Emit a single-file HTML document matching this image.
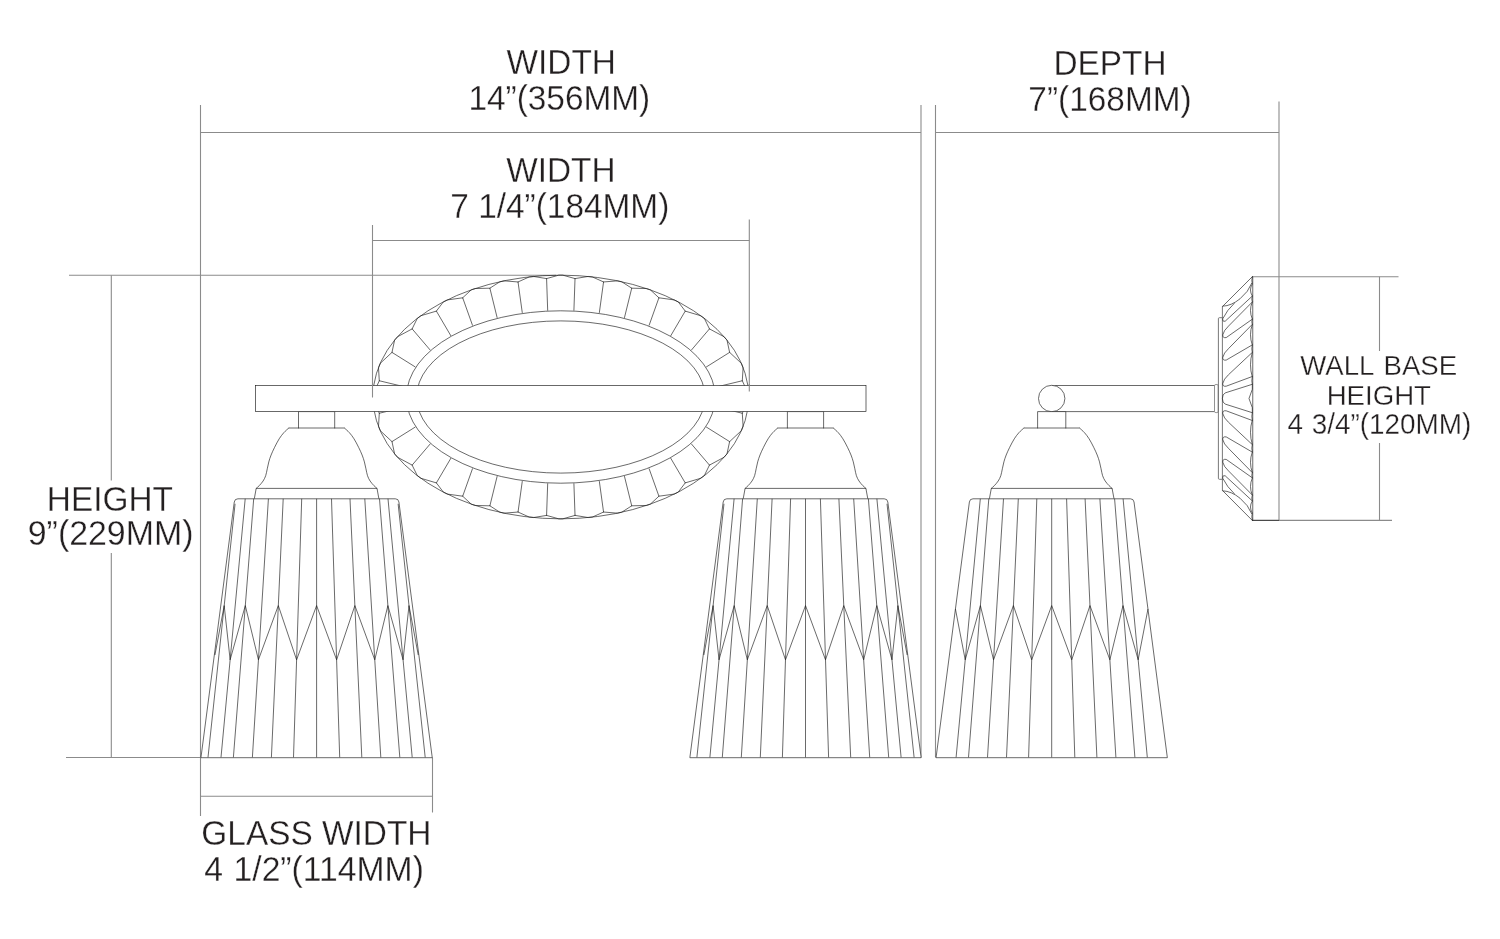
<!DOCTYPE html>
<html lang="en">
<head>
<meta charset="utf-8">
<title>Fixture dimensions</title>
<style>
html,body{margin:0;padding:0;background:#fff;}
body{width:1500px;height:939px;overflow:hidden;}
svg{display:block;will-change:transform;opacity:0.999;}
text{font-family:"Liberation Sans",sans-serif;fill:#231f20;stroke:#fff;stroke-width:0.3px;}
</style>
</head>
<body>
<svg width="1500" height="939" viewBox="0 0 1500 939">
<rect x="0" y="0" width="1500" height="939" fill="#fff"/>
<line x1="200.50" y1="105.00" x2="200.50" y2="816.00" stroke="#8b8b8b" stroke-width="1.1" />
<line x1="921.00" y1="105.00" x2="921.00" y2="757.50" stroke="#8b8b8b" stroke-width="1.1" />
<line x1="200.50" y1="132.50" x2="921.00" y2="132.50" stroke="#8b8b8b" stroke-width="1.1" />
<line x1="935.50" y1="105.00" x2="935.50" y2="757.50" stroke="#8b8b8b" stroke-width="1.1" />
<line x1="1279.00" y1="101.50" x2="1279.00" y2="520.50" stroke="#8b8b8b" stroke-width="1.1" />
<line x1="935.50" y1="132.50" x2="1279.00" y2="132.50" stroke="#8b8b8b" stroke-width="1.1" />
<line x1="372.50" y1="225.00" x2="372.50" y2="397.50" stroke="#8b8b8b" stroke-width="1.1" />
<line x1="749.30" y1="219.50" x2="749.30" y2="391.50" stroke="#8b8b8b" stroke-width="1.1" />
<line x1="372.50" y1="240.50" x2="749.30" y2="240.50" stroke="#8b8b8b" stroke-width="1.1" />
<line x1="69.00" y1="275.30" x2="556.00" y2="275.30" stroke="#8b8b8b" stroke-width="1.1" />
<line x1="66.00" y1="757.50" x2="200.50" y2="757.50" stroke="#8b8b8b" stroke-width="1.1" />
<line x1="111.30" y1="275.30" x2="111.30" y2="480.50" stroke="#8b8b8b" stroke-width="1.1" />
<line x1="111.30" y1="553.00" x2="111.30" y2="757.50" stroke="#8b8b8b" stroke-width="1.1" />
<line x1="432.50" y1="757.50" x2="432.50" y2="812.50" stroke="#8b8b8b" stroke-width="1.1" />
<line x1="200.50" y1="796.30" x2="432.50" y2="796.30" stroke="#8b8b8b" stroke-width="1.1" />
<line x1="1252.00" y1="276.70" x2="1398.50" y2="276.70" stroke="#8b8b8b" stroke-width="1.1" />
<line x1="1252.00" y1="520.40" x2="1392.00" y2="520.40" stroke="#8b8b8b" stroke-width="1.1" />
<line x1="1379.50" y1="276.70" x2="1379.50" y2="351.00" stroke="#8b8b8b" stroke-width="1.1" />
<line x1="1379.50" y1="443.00" x2="1379.50" y2="520.40" stroke="#8b8b8b" stroke-width="1.1" />
<ellipse cx="560.8" cy="397.0" rx="187.9" ry="121.85" fill="none" stroke="#1c1c1c" stroke-width="0.66"/>
<ellipse cx="560.8" cy="397.0" rx="154.4" ry="86.2" fill="none" stroke="#1c1c1c" stroke-width="0.66"/>
<ellipse cx="560.8" cy="397.0" rx="144.2" ry="76.1" fill="none" stroke="#1c1c1c" stroke-width="0.66"/>
<line x1="379.30" y1="380.76" x2="408.60" y2="387.80" stroke="#1c1c1c" stroke-width="0.66" />
<line x1="391.98" y1="352.38" x2="415.50" y2="367.10" stroke="#1c1c1c" stroke-width="0.66" />
<line x1="412.14" y1="328.89" x2="430.40" y2="350.30" stroke="#1c1c1c" stroke-width="0.66" />
<line x1="436.38" y1="311.10" x2="451.00" y2="336.00" stroke="#1c1c1c" stroke-width="0.66" />
<line x1="462.69" y1="297.80" x2="472.60" y2="325.60" stroke="#1c1c1c" stroke-width="0.66" />
<line x1="489.88" y1="288.19" x2="497.20" y2="317.90" stroke="#1c1c1c" stroke-width="0.66" />
<line x1="518.04" y1="281.96" x2="522.30" y2="312.90" stroke="#1c1c1c" stroke-width="0.66" />
<line x1="546.58" y1="278.60" x2="547.70" y2="310.70" stroke="#1c1c1c" stroke-width="0.66" />
<line x1="575.02" y1="278.60" x2="573.90" y2="310.70" stroke="#1c1c1c" stroke-width="0.66" />
<line x1="603.56" y1="281.96" x2="599.30" y2="312.90" stroke="#1c1c1c" stroke-width="0.66" />
<line x1="631.72" y1="288.19" x2="624.40" y2="317.90" stroke="#1c1c1c" stroke-width="0.66" />
<line x1="658.91" y1="297.80" x2="649.00" y2="325.60" stroke="#1c1c1c" stroke-width="0.66" />
<line x1="685.22" y1="311.10" x2="670.60" y2="336.00" stroke="#1c1c1c" stroke-width="0.66" />
<line x1="709.46" y1="328.89" x2="691.20" y2="350.30" stroke="#1c1c1c" stroke-width="0.66" />
<line x1="729.62" y1="352.38" x2="706.10" y2="367.10" stroke="#1c1c1c" stroke-width="0.66" />
<line x1="742.30" y1="380.76" x2="713.00" y2="387.80" stroke="#1c1c1c" stroke-width="0.66" />
<line x1="742.30" y1="413.24" x2="713.00" y2="406.20" stroke="#1c1c1c" stroke-width="0.66" />
<line x1="729.62" y1="441.62" x2="706.10" y2="426.90" stroke="#1c1c1c" stroke-width="0.66" />
<line x1="709.46" y1="465.11" x2="691.20" y2="443.70" stroke="#1c1c1c" stroke-width="0.66" />
<line x1="685.22" y1="482.90" x2="670.60" y2="458.00" stroke="#1c1c1c" stroke-width="0.66" />
<line x1="658.91" y1="496.20" x2="649.00" y2="468.40" stroke="#1c1c1c" stroke-width="0.66" />
<line x1="631.72" y1="505.81" x2="624.40" y2="476.10" stroke="#1c1c1c" stroke-width="0.66" />
<line x1="603.56" y1="512.04" x2="599.30" y2="481.10" stroke="#1c1c1c" stroke-width="0.66" />
<line x1="575.02" y1="515.40" x2="573.90" y2="483.30" stroke="#1c1c1c" stroke-width="0.66" />
<line x1="546.58" y1="515.40" x2="547.70" y2="483.30" stroke="#1c1c1c" stroke-width="0.66" />
<line x1="518.04" y1="512.04" x2="522.30" y2="481.10" stroke="#1c1c1c" stroke-width="0.66" />
<line x1="489.88" y1="505.81" x2="497.20" y2="476.10" stroke="#1c1c1c" stroke-width="0.66" />
<line x1="462.69" y1="496.20" x2="472.60" y2="468.40" stroke="#1c1c1c" stroke-width="0.66" />
<line x1="436.38" y1="482.90" x2="451.00" y2="458.00" stroke="#1c1c1c" stroke-width="0.66" />
<line x1="412.14" y1="465.11" x2="430.40" y2="443.70" stroke="#1c1c1c" stroke-width="0.66" />
<line x1="391.98" y1="441.62" x2="415.50" y2="426.90" stroke="#1c1c1c" stroke-width="0.66" />
<line x1="379.30" y1="413.24" x2="408.60" y2="406.20" stroke="#1c1c1c" stroke-width="0.66" />
<path d="M379.30,380.76 L378.49,367.50 L380.19,363.38 L391.98,352.38" stroke="#1c1c1c" stroke-width="0.66" fill="none" stroke-linejoin="round" stroke-linecap="round" />
<path d="M391.98,352.38 L394.58,340.18 L397.46,336.77 L412.14,328.89" stroke="#1c1c1c" stroke-width="0.66" fill="none" stroke-linejoin="round" stroke-linecap="round" />
<path d="M412.14,328.89 L417.30,318.34 L420.78,315.74 L436.38,311.10" stroke="#1c1c1c" stroke-width="0.66" fill="none" stroke-linejoin="round" stroke-linecap="round" />
<path d="M436.38,311.10 L443.37,301.87 L447.19,299.95 L462.69,297.80" stroke="#1c1c1c" stroke-width="0.66" fill="none" stroke-linejoin="round" stroke-linecap="round" />
<path d="M462.69,297.80 L471.21,289.89 L475.18,288.54 L489.88,288.19" stroke="#1c1c1c" stroke-width="0.66" fill="none" stroke-linejoin="round" stroke-linecap="round" />
<path d="M489.88,288.19 L499.98,281.71 L504.06,280.84 L518.04,281.96" stroke="#1c1c1c" stroke-width="0.66" fill="none" stroke-linejoin="round" stroke-linecap="round" />
<path d="M518.04,281.96 L529.34,276.87 L533.47,276.45 L546.58,278.60" stroke="#1c1c1c" stroke-width="0.66" fill="none" stroke-linejoin="round" stroke-linecap="round" />
<path d="M546.58,278.60 L558.76,275.16 L562.84,275.16 L575.02,278.60" stroke="#1c1c1c" stroke-width="0.66" fill="none" stroke-linejoin="round" stroke-linecap="round" />
<path d="M575.02,278.60 L588.13,276.45 L592.26,276.87 L603.56,281.96" stroke="#1c1c1c" stroke-width="0.66" fill="none" stroke-linejoin="round" stroke-linecap="round" />
<path d="M603.56,281.96 L617.54,280.84 L621.62,281.71 L631.72,288.19" stroke="#1c1c1c" stroke-width="0.66" fill="none" stroke-linejoin="round" stroke-linecap="round" />
<path d="M631.72,288.19 L646.42,288.54 L650.39,289.89 L658.91,297.80" stroke="#1c1c1c" stroke-width="0.66" fill="none" stroke-linejoin="round" stroke-linecap="round" />
<path d="M658.91,297.80 L674.41,299.95 L678.23,301.87 L685.22,311.10" stroke="#1c1c1c" stroke-width="0.66" fill="none" stroke-linejoin="round" stroke-linecap="round" />
<path d="M685.22,311.10 L700.82,315.74 L704.30,318.34 L709.46,328.89" stroke="#1c1c1c" stroke-width="0.66" fill="none" stroke-linejoin="round" stroke-linecap="round" />
<path d="M709.46,328.89 L724.14,336.77 L727.02,340.18 L729.62,352.38" stroke="#1c1c1c" stroke-width="0.66" fill="none" stroke-linejoin="round" stroke-linecap="round" />
<path d="M729.62,352.38 L741.41,363.38 L743.11,367.50 L742.30,380.76" stroke="#1c1c1c" stroke-width="0.66" fill="none" stroke-linejoin="round" stroke-linecap="round" />
<path d="M742.30,380.76 L748.67,394.66 L748.67,399.34 L742.30,413.24" stroke="#1c1c1c" stroke-width="0.66" fill="none" stroke-linejoin="round" stroke-linecap="round" />
<path d="M742.30,413.24 L743.11,426.50 L741.41,430.62 L729.62,441.62" stroke="#1c1c1c" stroke-width="0.66" fill="none" stroke-linejoin="round" stroke-linecap="round" />
<path d="M729.62,441.62 L727.02,453.82 L724.14,457.23 L709.46,465.11" stroke="#1c1c1c" stroke-width="0.66" fill="none" stroke-linejoin="round" stroke-linecap="round" />
<path d="M709.46,465.11 L704.30,475.66 L700.82,478.26 L685.22,482.90" stroke="#1c1c1c" stroke-width="0.66" fill="none" stroke-linejoin="round" stroke-linecap="round" />
<path d="M685.22,482.90 L678.23,492.13 L674.41,494.05 L658.91,496.20" stroke="#1c1c1c" stroke-width="0.66" fill="none" stroke-linejoin="round" stroke-linecap="round" />
<path d="M658.91,496.20 L650.39,504.11 L646.42,505.46 L631.72,505.81" stroke="#1c1c1c" stroke-width="0.66" fill="none" stroke-linejoin="round" stroke-linecap="round" />
<path d="M631.72,505.81 L621.62,512.29 L617.54,513.16 L603.56,512.04" stroke="#1c1c1c" stroke-width="0.66" fill="none" stroke-linejoin="round" stroke-linecap="round" />
<path d="M603.56,512.04 L592.26,517.13 L588.13,517.55 L575.02,515.40" stroke="#1c1c1c" stroke-width="0.66" fill="none" stroke-linejoin="round" stroke-linecap="round" />
<path d="M575.02,515.40 L562.84,518.84 L558.76,518.84 L546.58,515.40" stroke="#1c1c1c" stroke-width="0.66" fill="none" stroke-linejoin="round" stroke-linecap="round" />
<path d="M546.58,515.40 L533.47,517.55 L529.34,517.13 L518.04,512.04" stroke="#1c1c1c" stroke-width="0.66" fill="none" stroke-linejoin="round" stroke-linecap="round" />
<path d="M518.04,512.04 L504.06,513.16 L499.98,512.29 L489.88,505.81" stroke="#1c1c1c" stroke-width="0.66" fill="none" stroke-linejoin="round" stroke-linecap="round" />
<path d="M489.88,505.81 L475.18,505.46 L471.21,504.11 L462.69,496.20" stroke="#1c1c1c" stroke-width="0.66" fill="none" stroke-linejoin="round" stroke-linecap="round" />
<path d="M462.69,496.20 L447.19,494.05 L443.37,492.13 L436.38,482.90" stroke="#1c1c1c" stroke-width="0.66" fill="none" stroke-linejoin="round" stroke-linecap="round" />
<path d="M436.38,482.90 L420.78,478.26 L417.30,475.66 L412.14,465.11" stroke="#1c1c1c" stroke-width="0.66" fill="none" stroke-linejoin="round" stroke-linecap="round" />
<path d="M412.14,465.11 L397.46,457.23 L394.58,453.82 L391.98,441.62" stroke="#1c1c1c" stroke-width="0.66" fill="none" stroke-linejoin="round" stroke-linecap="round" />
<path d="M391.98,441.62 L380.19,430.62 L378.49,426.50 L379.30,413.24" stroke="#1c1c1c" stroke-width="0.66" fill="none" stroke-linejoin="round" stroke-linecap="round" />
<path d="M379.30,413.24 L372.93,399.34 L372.93,394.66 L379.30,380.76" stroke="#1c1c1c" stroke-width="0.66" fill="none" stroke-linejoin="round" stroke-linecap="round" />
<rect x="255.6" y="385.5" width="610.40" height="26.10" fill="#fff" stroke="#1c1c1c" stroke-width="0.66"/>
<line x1="372.50" y1="384.00" x2="372.50" y2="397.50" stroke="#8b8b8b" stroke-width="1.1" />
<line x1="749.30" y1="384.00" x2="749.30" y2="391.50" stroke="#8b8b8b" stroke-width="1.1" />
<path d="M298.50,428.0 L298.50,411.6 L334.70,411.6 L334.70,428.0" stroke="#1c1c1c" stroke-width="0.66" fill="#fff" stroke-linejoin="round" stroke-linecap="round" />
<path d="M344.40,428.00 C345.23,428.78 347.80,430.90 349.40,432.70 C351.00,434.50 352.47,436.37 354.00,438.80 C355.53,441.23 357.25,444.60 358.60,447.30 C359.95,450.00 361.13,452.57 362.10,455.00 C363.07,457.43 363.76,459.60 364.40,461.90 C365.04,464.20 365.43,466.50 365.95,468.80 C366.47,471.10 366.81,473.67 367.50,475.70 C368.19,477.73 369.03,479.35 370.10,481.00 C371.17,482.65 372.75,484.37 373.90,485.60 C375.05,486.83 376.48,487.93 377.00,488.40" stroke="#1c1c1c" stroke-width="0.66" fill="none" stroke-linejoin="round" stroke-linecap="round" />
<path d="M288.80,428.00 C287.97,428.78 285.40,430.90 283.80,432.70 C282.20,434.50 280.73,436.37 279.20,438.80 C277.67,441.23 275.95,444.60 274.60,447.30 C273.25,450.00 272.07,452.57 271.10,455.00 C270.13,457.43 269.44,459.60 268.80,461.90 C268.16,464.20 267.77,466.50 267.25,468.80 C266.73,471.10 266.39,473.67 265.70,475.70 C265.01,477.73 264.17,479.35 263.10,481.00 C262.03,482.65 260.45,484.37 259.30,485.60 C258.15,486.83 256.72,487.93 256.20,488.40" stroke="#1c1c1c" stroke-width="0.66" fill="none" stroke-linejoin="round" stroke-linecap="round" />
<line x1="288.80" y1="428.00" x2="344.40" y2="428.00" stroke="#1c1c1c" stroke-width="0.66" />
<line x1="256.20" y1="488.40" x2="377.00" y2="488.40" stroke="#1c1c1c" stroke-width="0.66" />
<line x1="256.20" y1="488.40" x2="254.30" y2="498.80" stroke="#1c1c1c" stroke-width="0.66" />
<line x1="377.00" y1="488.40" x2="378.90" y2="498.80" stroke="#1c1c1c" stroke-width="0.66" />
<path d="M201.00,757.3 L234.28,502.0 Q234.70,498.8 237.90,498.8 L395.30,498.8 Q398.50,498.8 398.92,502.0 L432.20,757.3 Z" stroke="#1c1c1c" stroke-width="0.66" fill="#fff" stroke-linejoin="round" stroke-linecap="round" />
<line x1="235.07" y1="503.80" x2="208.00" y2="757.30" stroke="#1c1c1c" stroke-width="0.66" />
<line x1="245.20" y1="498.80" x2="221.00" y2="757.30" stroke="#1c1c1c" stroke-width="0.66" />
<line x1="253.70" y1="498.80" x2="233.40" y2="757.30" stroke="#1c1c1c" stroke-width="0.66" />
<line x1="268.40" y1="498.80" x2="252.40" y2="757.30" stroke="#1c1c1c" stroke-width="0.66" />
<line x1="283.20" y1="498.80" x2="271.40" y2="757.30" stroke="#1c1c1c" stroke-width="0.66" />
<line x1="301.70" y1="498.80" x2="293.50" y2="757.30" stroke="#1c1c1c" stroke-width="0.66" />
<line x1="316.60" y1="498.80" x2="316.60" y2="757.30" stroke="#1c1c1c" stroke-width="0.66" />
<line x1="331.50" y1="498.80" x2="339.70" y2="757.30" stroke="#1c1c1c" stroke-width="0.66" />
<line x1="350.00" y1="498.80" x2="361.80" y2="757.30" stroke="#1c1c1c" stroke-width="0.66" />
<line x1="364.80" y1="498.80" x2="380.80" y2="757.30" stroke="#1c1c1c" stroke-width="0.66" />
<line x1="379.50" y1="498.80" x2="399.80" y2="757.30" stroke="#1c1c1c" stroke-width="0.66" />
<line x1="388.00" y1="498.80" x2="412.20" y2="757.30" stroke="#1c1c1c" stroke-width="0.66" />
<line x1="398.13" y1="503.80" x2="425.20" y2="757.30" stroke="#1c1c1c" stroke-width="0.66" />
<path d="M224.20,605.60 L230.13,659.80 L245.31,605.60 L258.43,659.80 L278.32,605.60 L296.59,659.80 L316.60,605.60 L336.61,659.80 L354.88,605.60 L374.77,659.80 L387.89,605.60 L403.07,659.80 L409.00,605.60" stroke="#1c1c1c" stroke-width="0.66" fill="none" stroke-linejoin="miter" stroke-miterlimit="10"/>
<line x1="224.20" y1="605.60" x2="214.94" y2="655.00" stroke="#1c1c1c" stroke-width="0.66" />
<line x1="409.00" y1="605.60" x2="418.26" y2="655.00" stroke="#1c1c1c" stroke-width="0.66" />
<path d="M787.40,428.0 L787.40,411.6 L823.60,411.6 L823.60,428.0" stroke="#1c1c1c" stroke-width="0.66" fill="#fff" stroke-linejoin="round" stroke-linecap="round" />
<path d="M833.30,428.00 C834.13,428.78 836.70,430.90 838.30,432.70 C839.90,434.50 841.37,436.37 842.90,438.80 C844.43,441.23 846.15,444.60 847.50,447.30 C848.85,450.00 850.03,452.57 851.00,455.00 C851.97,457.43 852.66,459.60 853.30,461.90 C853.94,464.20 854.33,466.50 854.85,468.80 C855.37,471.10 855.71,473.67 856.40,475.70 C857.09,477.73 857.93,479.35 859.00,481.00 C860.07,482.65 861.65,484.37 862.80,485.60 C863.95,486.83 865.38,487.93 865.90,488.40" stroke="#1c1c1c" stroke-width="0.66" fill="none" stroke-linejoin="round" stroke-linecap="round" />
<path d="M777.70,428.00 C776.87,428.78 774.30,430.90 772.70,432.70 C771.10,434.50 769.63,436.37 768.10,438.80 C766.57,441.23 764.85,444.60 763.50,447.30 C762.15,450.00 760.97,452.57 760.00,455.00 C759.03,457.43 758.34,459.60 757.70,461.90 C757.06,464.20 756.67,466.50 756.15,468.80 C755.63,471.10 755.29,473.67 754.60,475.70 C753.91,477.73 753.07,479.35 752.00,481.00 C750.93,482.65 749.35,484.37 748.20,485.60 C747.05,486.83 745.62,487.93 745.10,488.40" stroke="#1c1c1c" stroke-width="0.66" fill="none" stroke-linejoin="round" stroke-linecap="round" />
<line x1="777.70" y1="428.00" x2="833.30" y2="428.00" stroke="#1c1c1c" stroke-width="0.66" />
<line x1="745.10" y1="488.40" x2="865.90" y2="488.40" stroke="#1c1c1c" stroke-width="0.66" />
<line x1="745.10" y1="488.40" x2="743.20" y2="498.80" stroke="#1c1c1c" stroke-width="0.66" />
<line x1="865.90" y1="488.40" x2="867.80" y2="498.80" stroke="#1c1c1c" stroke-width="0.66" />
<path d="M689.90,757.3 L723.18,502.0 Q723.60,498.8 726.80,498.8 L884.20,498.8 Q887.40,498.8 887.82,502.0 L921.10,757.3 Z" stroke="#1c1c1c" stroke-width="0.66" fill="#fff" stroke-linejoin="round" stroke-linecap="round" />
<line x1="723.97" y1="503.80" x2="696.90" y2="757.30" stroke="#1c1c1c" stroke-width="0.66" />
<line x1="734.10" y1="498.80" x2="709.90" y2="757.30" stroke="#1c1c1c" stroke-width="0.66" />
<line x1="742.60" y1="498.80" x2="722.30" y2="757.30" stroke="#1c1c1c" stroke-width="0.66" />
<line x1="757.30" y1="498.80" x2="741.30" y2="757.30" stroke="#1c1c1c" stroke-width="0.66" />
<line x1="772.10" y1="498.80" x2="760.30" y2="757.30" stroke="#1c1c1c" stroke-width="0.66" />
<line x1="790.60" y1="498.80" x2="782.40" y2="757.30" stroke="#1c1c1c" stroke-width="0.66" />
<line x1="805.50" y1="498.80" x2="805.50" y2="757.30" stroke="#1c1c1c" stroke-width="0.66" />
<line x1="820.40" y1="498.80" x2="828.60" y2="757.30" stroke="#1c1c1c" stroke-width="0.66" />
<line x1="838.90" y1="498.80" x2="850.70" y2="757.30" stroke="#1c1c1c" stroke-width="0.66" />
<line x1="853.70" y1="498.80" x2="869.70" y2="757.30" stroke="#1c1c1c" stroke-width="0.66" />
<line x1="868.40" y1="498.80" x2="888.70" y2="757.30" stroke="#1c1c1c" stroke-width="0.66" />
<line x1="876.90" y1="498.80" x2="901.10" y2="757.30" stroke="#1c1c1c" stroke-width="0.66" />
<line x1="887.03" y1="503.80" x2="914.10" y2="757.30" stroke="#1c1c1c" stroke-width="0.66" />
<path d="M713.10,605.60 L719.03,659.80 L734.21,605.60 L747.33,659.80 L767.22,605.60 L785.49,659.80 L805.50,605.60 L825.51,659.80 L843.78,605.60 L863.67,659.80 L876.79,605.60 L891.97,659.80 L897.90,605.60" stroke="#1c1c1c" stroke-width="0.66" fill="none" stroke-linejoin="miter" stroke-miterlimit="10"/>
<line x1="713.10" y1="605.60" x2="703.84" y2="655.00" stroke="#1c1c1c" stroke-width="0.66" />
<line x1="897.90" y1="605.60" x2="907.16" y2="655.00" stroke="#1c1c1c" stroke-width="0.66" />
<line x1="1051.70" y1="385.50" x2="1214.60" y2="385.50" stroke="#1c1c1c" stroke-width="0.66" />
<line x1="1051.70" y1="411.60" x2="1214.60" y2="411.60" stroke="#1c1c1c" stroke-width="0.66" />
<rect x="1214.5" y="384.5" width="3.7" height="28.1" rx="1.3" ry="1.3" fill="#fff" stroke="#5a5a5a" stroke-width="0.66"/>
<circle cx="1051.7" cy="398.5" r="13.2" fill="#fff" stroke="#1c1c1c" stroke-width="0.66"/>
<path d="M1037.60,428.0 L1037.60,411.6 L1065.80,411.6 L1065.80,428.0" stroke="#1c1c1c" stroke-width="0.66" fill="#fff" stroke-linejoin="round" stroke-linecap="round" />
<path d="M1079.50,428.00 C1080.33,428.78 1082.90,430.90 1084.50,432.70 C1086.10,434.50 1087.57,436.37 1089.10,438.80 C1090.63,441.23 1092.35,444.60 1093.70,447.30 C1095.05,450.00 1096.23,452.57 1097.20,455.00 C1098.17,457.43 1098.86,459.60 1099.50,461.90 C1100.14,464.20 1100.53,466.50 1101.05,468.80 C1101.57,471.10 1101.91,473.67 1102.60,475.70 C1103.29,477.73 1104.13,479.35 1105.20,481.00 C1106.27,482.65 1107.85,484.37 1109.00,485.60 C1110.15,486.83 1111.58,487.93 1112.10,488.40" stroke="#1c1c1c" stroke-width="0.66" fill="none" stroke-linejoin="round" stroke-linecap="round" />
<path d="M1023.90,428.00 C1023.07,428.78 1020.50,430.90 1018.90,432.70 C1017.30,434.50 1015.83,436.37 1014.30,438.80 C1012.77,441.23 1011.05,444.60 1009.70,447.30 C1008.35,450.00 1007.17,452.57 1006.20,455.00 C1005.23,457.43 1004.54,459.60 1003.90,461.90 C1003.26,464.20 1002.87,466.50 1002.35,468.80 C1001.83,471.10 1001.49,473.67 1000.80,475.70 C1000.11,477.73 999.27,479.35 998.20,481.00 C997.13,482.65 995.55,484.37 994.40,485.60 C993.25,486.83 991.82,487.93 991.30,488.40" stroke="#1c1c1c" stroke-width="0.66" fill="none" stroke-linejoin="round" stroke-linecap="round" />
<line x1="1023.90" y1="428.00" x2="1079.50" y2="428.00" stroke="#1c1c1c" stroke-width="0.66" />
<line x1="991.30" y1="488.40" x2="1112.10" y2="488.40" stroke="#1c1c1c" stroke-width="0.66" />
<line x1="991.30" y1="488.40" x2="989.40" y2="498.80" stroke="#1c1c1c" stroke-width="0.66" />
<line x1="1112.10" y1="488.40" x2="1114.00" y2="498.80" stroke="#1c1c1c" stroke-width="0.66" />
<path d="M936.10,757.3 L969.38,502.0 Q969.80,498.8 973.00,498.8 L1130.40,498.8 Q1133.60,498.8 1134.02,502.0 L1167.30,757.3 Z" stroke="#1c1c1c" stroke-width="0.66" fill="#fff" stroke-linejoin="round" stroke-linecap="round" />
<line x1="980.30" y1="498.80" x2="956.10" y2="757.30" stroke="#1c1c1c" stroke-width="0.66" />
<line x1="988.80" y1="498.80" x2="968.50" y2="757.30" stroke="#1c1c1c" stroke-width="0.66" />
<line x1="1003.50" y1="498.80" x2="987.50" y2="757.30" stroke="#1c1c1c" stroke-width="0.66" />
<line x1="1018.30" y1="498.80" x2="1006.50" y2="757.30" stroke="#1c1c1c" stroke-width="0.66" />
<line x1="1036.80" y1="498.80" x2="1028.60" y2="757.30" stroke="#1c1c1c" stroke-width="0.66" />
<line x1="1051.70" y1="498.80" x2="1051.70" y2="757.30" stroke="#1c1c1c" stroke-width="0.66" />
<line x1="1066.60" y1="498.80" x2="1074.80" y2="757.30" stroke="#1c1c1c" stroke-width="0.66" />
<line x1="1085.10" y1="498.80" x2="1096.90" y2="757.30" stroke="#1c1c1c" stroke-width="0.66" />
<line x1="1099.90" y1="498.80" x2="1115.90" y2="757.30" stroke="#1c1c1c" stroke-width="0.66" />
<line x1="1114.60" y1="498.80" x2="1134.90" y2="757.30" stroke="#1c1c1c" stroke-width="0.66" />
<line x1="1123.10" y1="498.80" x2="1147.30" y2="757.30" stroke="#1c1c1c" stroke-width="0.66" />
<path d="M955.43,609.00 L965.23,659.80 L980.41,605.60 L993.53,659.80 L1013.42,605.60 L1031.69,659.80 L1051.70,605.60 L1071.71,659.80 L1089.98,605.60 L1109.87,659.80 L1122.99,605.60 L1138.17,659.80 L1147.97,609.00" stroke="#1c1c1c" stroke-width="0.66" fill="none" stroke-linejoin="miter" stroke-miterlimit="10"/>
<path d="M1252.3,276.7 L1222.4,306.6" stroke="#1c1c1c" stroke-width="0.66" fill="none" stroke-linejoin="round" stroke-linecap="round" />
<path d="M1222.4,490.40 L1252.3,520.4" stroke="#1c1c1c" stroke-width="0.66" fill="none" stroke-linejoin="round" stroke-linecap="round" />
<line x1="1222.40" y1="306.60" x2="1222.40" y2="490.40" stroke="#6a6a6a" stroke-width="0.9" />
<line x1="1252.75" y1="276.70" x2="1252.75" y2="520.40" stroke="#1c1c1c" stroke-width="0.66" />
<line x1="1252.30" y1="520.40" x2="1279.00" y2="520.40" stroke="#1c1c1c" stroke-width="0.66" />
<path d="M1222.4,317.7 L1219.4,317.7 Q1218.4,317.7 1218.4,318.7 L1218.4,478.30 Q1218.4,479.30 1219.4,479.30 L1222.4,479.30" stroke="#6a6a6a" stroke-width="0.9" fill="none" stroke-linejoin="round" stroke-linecap="round" />
<path d="M1222.9,306.20 Q1231.5,305.80 1240.0,298.80 T1251.7,283.40" stroke="#1c1c1c" stroke-width="0.66" fill="none" stroke-linejoin="round" stroke-linecap="round" />
<path d="M1234.2,303.40 Q1227.0,310.00 1222.9,318.50 Q1222.0,321.80 1225.2,321.20 L1252.3,296.10" stroke="#1c1c1c" stroke-width="0.66" fill="none" stroke-linejoin="round" stroke-linecap="round" />
<path d="M1252.3,302.00 L1228.5,326.10 Q1223.6,330.60 1222.8,334.80 Q1222.4,338.20 1226.2,337.60 L1252.3,319.20" stroke="#1c1c1c" stroke-width="0.66" fill="none" stroke-linejoin="round" stroke-linecap="round" />
<path d="M1252.3,324.40 L1228.5,348.60 Q1223.6,353.10 1222.8,357.30 Q1222.4,360.70 1226.2,360.10 L1252.3,344.90" stroke="#1c1c1c" stroke-width="0.66" fill="none" stroke-linejoin="round" stroke-linecap="round" />
<path d="M1252.3,352.40 L1228.5,374.70 Q1223.6,379.20 1222.8,383.40 Q1222.4,386.80 1226.2,386.20 L1252.3,376.50" stroke="#1c1c1c" stroke-width="0.66" fill="none" stroke-linejoin="round" stroke-linecap="round" />
<path d="M1222.9,490.80 Q1231.5,491.20 1240.0,498.20 T1251.7,513.60" stroke="#1c1c1c" stroke-width="0.66" fill="none" stroke-linejoin="round" stroke-linecap="round" />
<path d="M1234.2,493.60 Q1227.0,487.00 1222.9,478.50 Q1222.0,475.20 1225.2,475.80 L1252.3,500.90" stroke="#1c1c1c" stroke-width="0.66" fill="none" stroke-linejoin="round" stroke-linecap="round" />
<path d="M1252.3,495.00 L1228.5,470.90 Q1223.6,466.40 1222.8,462.20 Q1222.4,458.80 1226.2,459.40 L1252.3,477.80" stroke="#1c1c1c" stroke-width="0.66" fill="none" stroke-linejoin="round" stroke-linecap="round" />
<path d="M1252.3,472.60 L1228.5,448.40 Q1223.6,443.90 1222.8,439.70 Q1222.4,436.30 1226.2,436.90 L1252.3,452.10" stroke="#1c1c1c" stroke-width="0.66" fill="none" stroke-linejoin="round" stroke-linecap="round" />
<path d="M1252.3,444.60 L1228.5,422.30 Q1223.6,417.80 1222.8,413.60 Q1222.4,410.20 1226.2,410.80 L1252.3,420.50" stroke="#1c1c1c" stroke-width="0.66" fill="none" stroke-linejoin="round" stroke-linecap="round" />
<path d="M1252.3,384.3 L1225.2,392.9 Q1222.4,394.3 1222.4,398.5 Q1222.4,402.70 1225.2,404.10 L1252.3,412.70" stroke="#1c1c1c" stroke-width="0.66" fill="none" stroke-linejoin="round" stroke-linecap="round" />
<path d="M1252.3,276.7 Q1251.30,280.35 1252.3,284.00 Q1248.70,290.00 1252.3,296.00 Q1251.30,299.00 1252.3,302.00 Q1248.70,310.50 1252.3,319.00 Q1251.30,321.75 1252.3,324.50 Q1248.70,334.75 1252.3,345.00 Q1251.30,348.75 1252.3,352.50 Q1248.70,364.75 1252.3,377.00 Q1251.30,380.65 1252.3,384.30 L1252.3,389.30 L1249.00,398.5 L1252.3,407.70 L1252.3,412.70 Q1251.30,416.35 1252.3,420.00 Q1248.70,432.25 1252.3,444.50 Q1251.30,448.25 1252.3,452.00 Q1248.70,462.25 1252.3,472.50 Q1251.30,475.25 1252.3,478.00 Q1248.70,486.50 1252.3,495.00 Q1251.30,498.00 1252.3,501.00 Q1248.70,507.00 1252.3,513.00 Q1251.30,516.65 1252.3,520.30" stroke="#1c1c1c" stroke-width="0.66" fill="none" stroke-linejoin="round" stroke-linecap="round" />
<text transform="translate(561.20 73.70) scale(1 1.026)" font-size="33.4" text-anchor="middle">WIDTH</text>
<text transform="translate(559.30 109.90) scale(1 1.026)" font-size="33.4" text-anchor="middle">14”(356MM)</text>
<text transform="translate(560.90 181.60) scale(1 1.026)" font-size="33.4" text-anchor="middle">WIDTH</text>
<text transform="translate(559.80 217.80) scale(1 1.026)" font-size="33.4" text-anchor="middle">7 1/4”(184MM)</text>
<text transform="translate(1110.00 75.40) scale(1 1.026)" font-size="33.4" text-anchor="middle">DEPTH</text>
<text transform="translate(1110.00 110.50) scale(1 1.026)" font-size="33.4" text-anchor="middle">7”(168MM)</text>
<text transform="translate(109.90 510.70) scale(1 1.026)" font-size="33.4" text-anchor="middle">HEIGHT</text>
<text transform="translate(110.60 544.80) scale(1 1.026)" font-size="33.9" text-anchor="middle">9”(229MM)</text>
<text transform="translate(316.40 844.90) scale(1 1.026)" font-size="33.4" text-anchor="middle">GLASS WIDTH</text>
<text transform="translate(314.00 880.90) scale(1 1.026)" font-size="33.7" text-anchor="middle" word-spacing="1.3">4 1/2”(114MM)</text>
<text transform="translate(1378.70 374.80) scale(1 1.026)" font-size="27.6" text-anchor="middle" word-spacing="2.6">WALL BASE</text>
<text transform="translate(1378.80 404.70) scale(1 1.026)" font-size="27.6" text-anchor="middle">HEIGHT</text>
<text transform="translate(1379.40 433.70) scale(1 1.026)" font-size="27.9" text-anchor="middle" word-spacing="0.8">4 3/4”(120MM)</text>
</svg>
</body>
</html>
